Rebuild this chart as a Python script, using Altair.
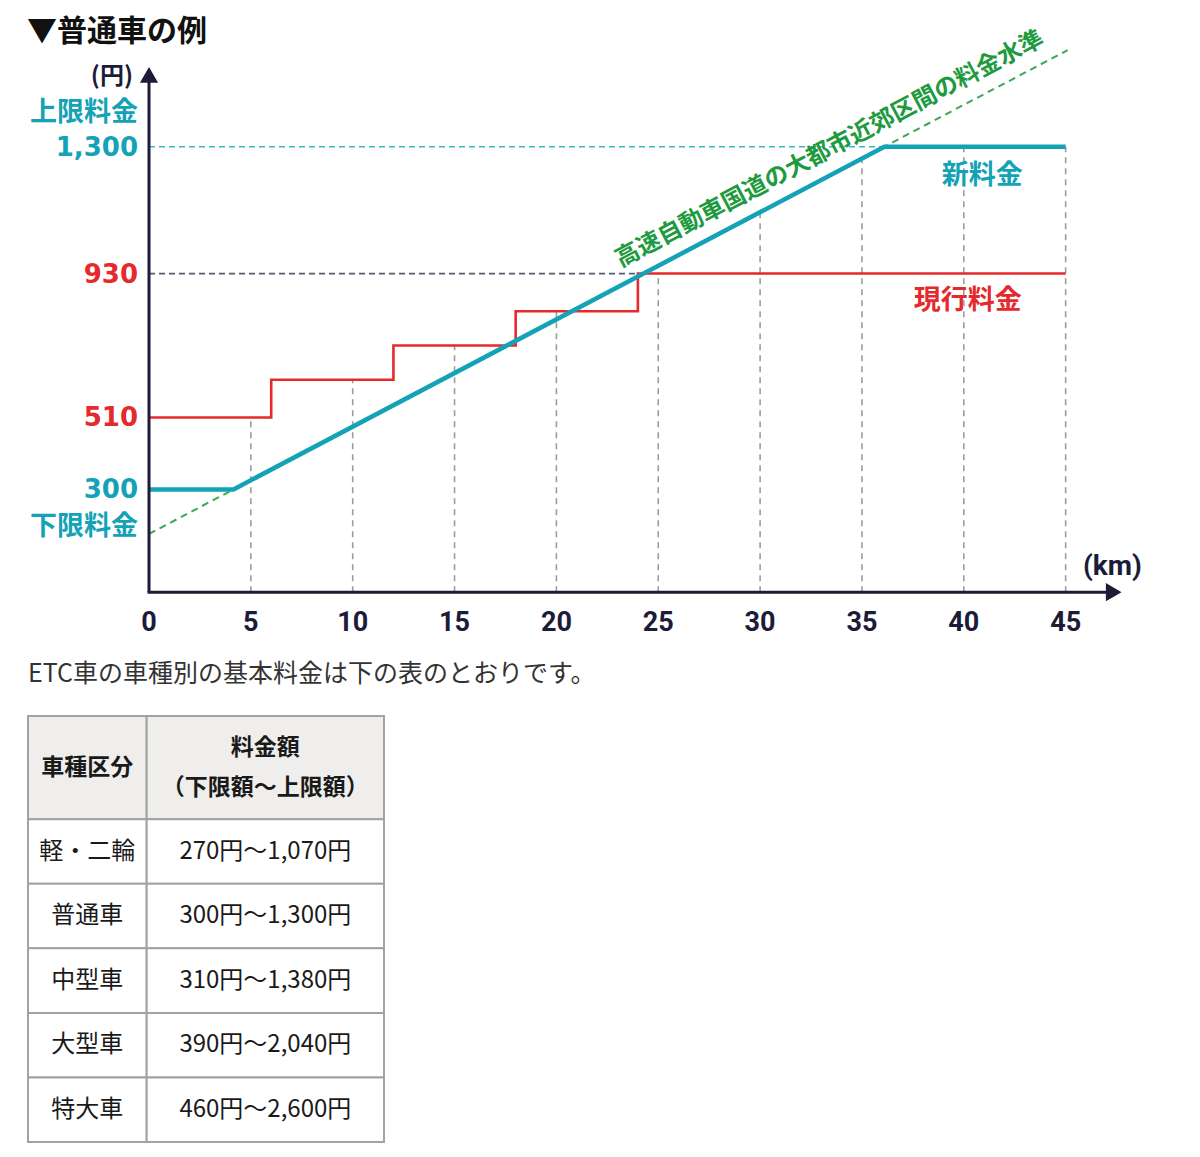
import math
import altair as alt
import pandas as pd

# ---------------- data ----------------
x_ticks = [0, 5, 10, 15, 20, 25, 30, 35, 40, 45]
grid_km = [5, 10, 15, 20, 25, 30, 35, 40, 45]
grid_top = [510, 620, 720, 820, 930, 1110, 1265, 1300, 1300]

current_km = [0, 6, 12, 18, 24, 45]
current_fee = [510, 620, 720, 820, 930, 930]

new_km = [0, 4.15, 36.1, 45]
new_fee = [300, 300, 1300, 1300]

level_km = [0, 45.1]
level_fee = [170, 1582]

ylabel_fee = [1300, 930, 510, 300]
ylabel_text = ["1,300", "930", "510", "300"]
ylabel_series = ["new", "current", "current", "new"]

vehicle_classes = ["軽・二輪", "普通車", "中型車", "大型車", "特大車"]
fee_ranges = ["270円～1,070円", "300円～1,300円", "310円～1,380円", "390円～2,040円", "460円～2,600円"]
table_header = ["車種区分", "料金額\n（下限額～上限額）"]

# ---------------- layout / styles ----------------
W, H = 1200, 1157
X0, PX_KM = 149.0, 20.37
Y0, PX_YEN = 592.2, 0.34265

TEAL = "#13a2b6"
RED = "#e42a2d"
GREEN = "#3aa957"
GREEN_TXT = "#1e9a3f"
NAVY = "#1c1c38"
GRID = "#9c9c9c"
JP = "Noto Sans CJK JP"

xs = alt.Scale(domain=[-X0 / PX_KM, (W - X0) / PX_KM], nice=False, zero=False)
ys = alt.Scale(domain=[(Y0 - H) / PX_YEN, Y0 / PX_YEN], nice=False, zero=False)


def X(f):
    return alt.X(f"{f}:Q", scale=xs, axis=None)


def Y(f):
    return alt.Y(f"{f}:Q", scale=ys, axis=None)


# vertical dashed guides
grid_df = pd.DataFrame({"km": grid_km, "top": grid_top, "base": [0] * len(grid_km)})
grid = alt.Chart(grid_df).mark_rule(color=GRID, strokeWidth=1.6, strokeDash=[6, 5]).encode(
    x=X("km"), y=Y("base"), y2="top")

# horizontal dashed guides
ref_hi = alt.Chart(pd.DataFrame({"fee": [1300], "a": [0], "b": [new_km[2]]})).mark_rule(
    color="#3cb6c9", strokeWidth=1.6, strokeDash=[6, 4]).encode(x=X("a"), x2="b", y=Y("fee"))
ref_930 = alt.Chart(pd.DataFrame({"fee": [930], "a": [0], "b": [current_km[4]]})).mark_rule(
    color="#5a5a70", strokeWidth=1.8, strokeDash=[6, 4]).encode(x=X("a"), x2="b", y=Y("fee"))

# green dashed "大都市近郊区間" level
level = alt.Chart(pd.DataFrame({"km": level_km, "fee": level_fee})).mark_line(
    color=GREEN, strokeWidth=2, strokeDash=[7, 5]).encode(x=X("km"), y=Y("fee"))

# current fee (red step)
cur = alt.Chart(pd.DataFrame({"km": current_km, "fee": current_fee})).mark_line(
    color=RED, strokeWidth=2.6, interpolate="step-after").encode(x=X("km"), y=Y("fee"))

# new fee (teal)
new = alt.Chart(pd.DataFrame({"km": new_km, "fee": new_fee})).mark_line(
    color=TEAL, strokeWidth=4.5).encode(x=X("km"), y=Y("fee"))

# axes
yaxis = alt.Chart(pd.DataFrame({"km": [0], "a": [0], "b": [1500]})).mark_rule(
    color=NAVY, strokeWidth=3).encode(x=X("km"), y=Y("a"), y2="b")
xaxis = alt.Chart(pd.DataFrame({"fee": [0], "a": [-0.07], "b": [47.0]})).mark_rule(
    color=NAVY, strokeWidth=3).encode(x=X("a"), x2="b", y=Y("fee"))
arrow_up = alt.Chart(pd.DataFrame({"km": [0], "fee": [1510]})).mark_point(
    shape="triangle-up", filled=True, size=330, color=NAVY, opacity=1).encode(x=X("km"), y=Y("fee"))
arrow_right = alt.Chart(pd.DataFrame({"km": [47.36], "fee": [0]})).mark_point(
    shape="triangle-right", filled=True, size=330, color=NAVY, opacity=1).encode(x=X("km"), y=Y("fee"))

# tick labels
xt = alt.Chart(pd.DataFrame({"km": x_ticks, "label": [str(v) for v in x_ticks], "base": [0] * len(x_ticks)})).mark_text(
    dy=31, font="Roboto", fontWeight="bold", fontSize=27, color=NAVY).encode(
    x=X("km"), y=Y("base"), text="label:N")

yl_df = pd.DataFrame({"fee": ylabel_fee, "label": ylabel_text, "series": ylabel_series, "km": [0] * 4})
yt = alt.Chart(yl_df).mark_text(
    align="right", baseline="middle", dx=-11, dy=1, font="DejaVu Sans", fontWeight="bold", fontSize=26).encode(
    x=X("km"), y=Y("fee"), text="label:N",
    color=alt.Color("series:N", scale=alt.Scale(domain=["new", "current"], range=[TEAL, RED]), legend=None))

up_lab = alt.Chart(pd.DataFrame({"fee": [1300], "km": [0], "t": ["上限料金"]})).mark_text(
    align="right", baseline="middle", dx=-11, dy=-34, font=JP, fontWeight="bold", fontSize=27, color=TEAL).encode(
    x=X("km"), y=Y("fee"), text="t:N")
lo_lab = alt.Chart(pd.DataFrame({"fee": [300], "km": [0], "t": ["下限料金"]})).mark_text(
    align="right", baseline="middle", dx=-11, dy=38, font=JP, fontWeight="bold", fontSize=27, color=TEAL).encode(
    x=X("km"), y=Y("fee"), text="t:N")

yen_lab = alt.Chart(pd.DataFrame({"fee": [1505], "km": [0], "t": ["(円)"]})).mark_text(
    align="right", baseline="middle", dx=-16, font=JP, fontWeight="bold", fontSize=24, color=NAVY).encode(
    x=X("km"), y=Y("fee"), text="t:N")
km_lab = alt.Chart(pd.DataFrame({"fee": [0], "km": [47.3], "t": ["(km)"]})).mark_text(
    align="center", baseline="middle", dy=-25, font="Roboto", fontWeight="bold", fontSize=28, color=NAVY).encode(
    x=X("km"), y=Y("fee"), text="t:N")

# green rotated annotation along the level line
slope = (level_fee[1] - level_fee[0]) / (level_km[1] - level_km[0])
ang = 360 - math.degrees(math.atan(slope * PX_YEN / PX_KM))
ann_km = 33.95
ann_fee = level_fee[0] + slope * ann_km
green_lab = alt.Chart(pd.DataFrame({"km": [ann_km], "fee": [ann_fee], "t": ["高速自動車国道の大都市近郊区間の料金水準"]})).mark_text(
    align="center", baseline="middle", angle=ang, dy=-23, font=JP, fontWeight="bold", fontSize=24,
    color=GREEN_TXT).encode(x=X("km"), y=Y("fee"), text="t:N")

new_lab = alt.Chart(pd.DataFrame({"km": [40.9], "fee": [1300], "t": ["新料金"]})).mark_text(
    align="center", baseline="middle", dy=29, font=JP, fontWeight="bold", fontSize=27, color=TEAL).encode(
    x=X("km"), y=Y("fee"), text="t:N")
cur_lab = alt.Chart(pd.DataFrame({"km": [40.2], "fee": [930], "t": ["現行料金"]})).mark_text(
    align="center", baseline="middle", dy=27, font=JP, fontWeight="bold", fontSize=27, color=RED).encode(
    x=X("km"), y=Y("fee"), text="t:N")

title = alt.Chart(pd.DataFrame({"t": ["▼普通車の例"]})).mark_text(
    align="left", baseline="middle", font=JP, fontWeight="bold", fontSize=30, color="#111111").encode(
    x=alt.value(27), y=alt.value(32), text="t:N")
sentence = alt.Chart(pd.DataFrame({"t": ["ETC車の車種別の基本料金は下の表のとおりです。"]})).mark_text(
    align="left", baseline="middle", font=JP, fontSize=25, color="#333333").encode(
    x=alt.value(28), y=alt.value(674), text="t:N")

main = alt.layer(grid, ref_hi, ref_930, level, cur, new, yaxis, xaxis, arrow_up, arrow_right,
                 xt, yt, up_lab, lo_lab, yen_lab, km_lab, green_lab, new_lab, cur_lab, title, sentence)

# ---------------- table ----------------
col_edges = [0, 1, 3]
row_edges = [0, 1.6] + [1.6 + i + 1 for i in range(len(vehicle_classes))]
cells, texts = [], []
for r in range(len(row_edges) - 1):
    for c in range(2):
        cells.append({"x1": col_edges[c], "x2": col_edges[c + 1], "y1": row_edges[r], "y2": row_edges[r + 1],
                      "kind": "header" if r == 0 else "body"})
        if r == 0:
            t = table_header[c]
        else:
            t = vehicle_classes[r - 1] if c == 0 else fee_ranges[r - 1]
        texts.append({"cx": (col_edges[c] + col_edges[c + 1]) / 2, "cy": (row_edges[r] + row_edges[r + 1]) / 2,
                      "t": t, "kind": "header" if r == 0 else "body",
                      "multi": "\n" in t})
cells_df = pd.DataFrame(cells)
texts_df = pd.DataFrame(texts)

TX0, TPX = 28.0, 118.667
TY0, TPY = 716.0, 64.545
txs = alt.Scale(domain=[-TX0 / TPX, (W - TX0) / TPX], nice=False, zero=False)
tys = alt.Scale(domain=[-TY0 / TPY, (H - TY0) / TPY], nice=False, zero=False, reverse=True)

rects = alt.Chart(cells_df).mark_rect(stroke="#a2a2a2", strokeWidth=2).encode(
    x=alt.X("x1:Q", scale=txs, axis=None), x2="x2",
    y=alt.Y("y1:Q", scale=tys, axis=None), y2="y2",
    fill=alt.Fill("kind:N", scale=alt.Scale(domain=["header", "body"], range=["#efeeec", "#ffffff"]), legend=None))

head1 = alt.Chart(texts_df[(texts_df.kind == "header") & (~texts_df.multi)]).mark_text(
    align="center", baseline="middle", font=JP, fontWeight="bold",
    fontSize=23, color="#1a1a1a").encode(
    x=alt.X("cx:Q", scale=txs, axis=None), y=alt.Y("cy:Q", scale=tys, axis=None), text="t:N")
head2 = alt.Chart(texts_df[(texts_df.kind == "header") & (texts_df.multi)]).mark_text(
    align="center", baseline="middle", lineBreak="\n", lineHeight=40, dy=-20, font=JP, fontWeight="bold",
    fontSize=23, color="#1a1a1a").encode(
    x=alt.X("cx:Q", scale=txs, axis=None), y=alt.Y("cy:Q", scale=tys, axis=None), text="t:N")
body_txt = alt.Chart(texts_df[texts_df.kind == "body"]).mark_text(
    align="center", baseline="middle", font=JP, fontSize=24, color="#1a1a1a").encode(
    x=alt.X("cx:Q", scale=txs, axis=None), y=alt.Y("cy:Q", scale=tys, axis=None), text="t:N")

table = alt.layer(rects, head1, head2, body_txt)

chart = alt.layer(main, table).resolve_scale(
    x="independent", y="independent"
).properties(
    width=W, height=H, autosize=alt.AutoSizeParams(type="none"), padding=0, background="white"
).configure_view(stroke=None)

chart.save("out.html", embed_options={"renderer": "svg", "actions": False})
